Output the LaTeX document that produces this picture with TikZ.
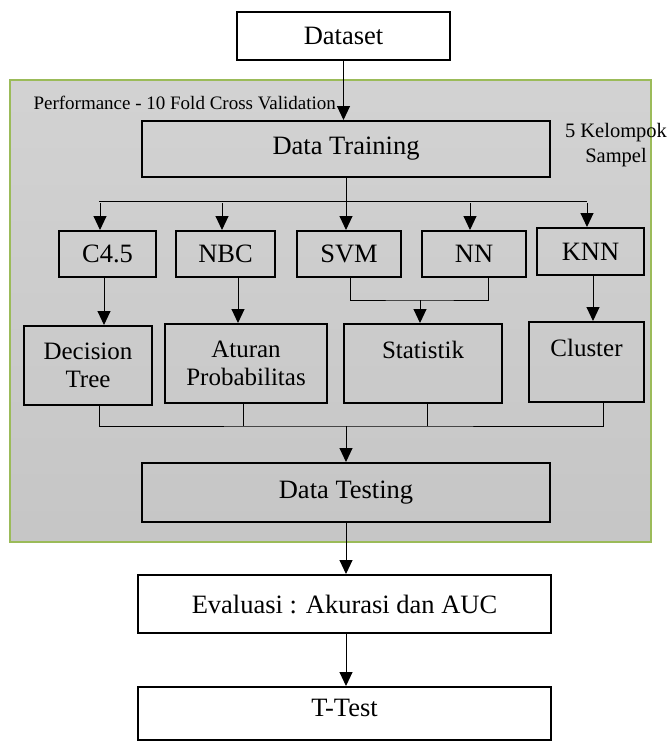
\documentclass[tikz,border=0pt]{standalone}
\usepackage{fontspec}
\setmainfont{Liberation Serif}
\usepackage{tikz}
\usetikzlibrary{arrows.meta}
\definecolor{panelgreen}{RGB}{155,187,89}

\begin{document}
\begin{tikzpicture}[x=1pt,y=-1pt,
	box/.style={draw, line width=2pt, inner sep=0pt, font=\fontsize{26.5}{29}\selectfont},
	twoline/.style={box, align=center, font=\fontsize{25}{28}\selectfont},
	panel/.style={draw=panelgreen, line width=1.5pt, top color=gray!35, bottom color=gray!45},
	arr/.style={line width=1pt, -{Triangle[width=13pt,length=14pt]}},
	ln/.style={line width=1pt}]
\useasboundingbox (0,0) rectangle (669,744);

% grey panel
\node[panel, minimum width=641pt, minimum height=462pt] (pnl) at (330.5,311) {};
\node[anchor=west, font=\fontsize{19}{22}\selectfont] (perf) at (30,103) {Performance - 10 Fold Cross Validation};

\node[box, fill=white, minimum width=213pt, minimum height=48pt] (dataset) at (343.5,36) {Dataset};
\node[box, minimum width=408pt, minimum height=56pt] (training) at (346,149) {Data Training};
\node[align=center, font=\fontsize{20.5}{25}\selectfont] (kel) at (616,145) {5 Kelompok\\Sampel};

% models
\node[box, minimum width=97pt, minimum height=46pt] (c45) at (107.5,254) {C4.5};
\node[box, minimum width=99pt, minimum height=46pt] (nbc) at (225.5,254) {NBC};
\node[box, minimum width=104pt, minimum height=46pt] (svm) at (349,254) {SVM};
\node[box, minimum width=104pt, minimum height=46pt] (nn) at (474,254) {NN};
\node[box, minimum width=107pt, minimum height=47pt] (knn) at (590.5,251.5) {KNN};

\node[twoline, minimum width=128pt, minimum height=79pt] (dtree) at (88,365.5) {Decision\\Tree};
\node[twoline, minimum width=162pt, minimum height=79pt] (atur) at (246,363.5) {Aturan\\Probabilitas};
\node[twoline, minimum width=158pt, minimum height=79pt] (stat) at (423,363.5) {Statistik\\\mbox{}};
\node[twoline, minimum width=115pt, minimum height=80pt] (clus) at (586.5,362) {Cluster\\\mbox{}};

\node[box, minimum width=408pt, minimum height=59pt] (testing) at (346,492.5) {Data Testing};
\node[box, fill=white, minimum width=413pt, minimum height=58pt] (eval) at (344.5,604) {Evaluasi : Akurasi dan AUC};
\node[box, fill=white, minimum width=413pt, minimum height=53pt, text depth=12pt] (ttest) at (344.5,713.5) {T-Test};

% connectors
\draw[arr] (dataset.south) -- (dataset.south |- training.north);

\coordinate (busL) at (99,201);
\coordinate (busR) at (587,201);
\draw[ln] (busL) -- (busR);
\draw[arr] (training.south) -- (training.south |- svm.north);
\foreach \n/\x in {c45/100, nbc/222, nn/470, knn/587}
{
	\coordinate (b\n) at (\x,203);
	\draw[arr] (b\n) -- (b\n |- \n.north);
}

\draw[arr] ([xshift=-3.5pt]c45.south) -- ([xshift=-3.5pt]c45.south |- dtree.north);
\draw[arr] ([xshift=12.5pt]nbc.south) -- ([xshift=12.5pt]nbc.south |- atur.north);
\draw[arr] ([xshift=2.5pt]knn.south) -- ([xshift=2.5pt]knn.south |- clus.north);

\coordinate (sn) at (420,300);
\draw[ln] ([xshift=1pt]svm.south) |- (sn) -| ([xshift=14pt]nn.south);
\draw[arr] (sn) -- (sn |- stat.north);

\coordinate (jt) at (346,426);
\draw[ln] ([xshift=11pt]dtree.south) |- (jt) -| ([xshift=17pt]clus.south);
\draw[ln] ([xshift=-3pt]atur.south) -- ([xshift=-3pt]atur.south |- jt);
\draw[ln] ([xshift=4pt]stat.south) -- ([xshift=4pt]stat.south |- jt);
\draw[arr] (jt) -- (jt |- testing.north);

\draw[arr] (testing.south) -- (testing.south |- eval.north);
\draw[arr] ([xshift=1.5pt]eval.south) -- ([xshift=1.5pt]eval.south |- ttest.north);

\end{tikzpicture}
\end{document}
